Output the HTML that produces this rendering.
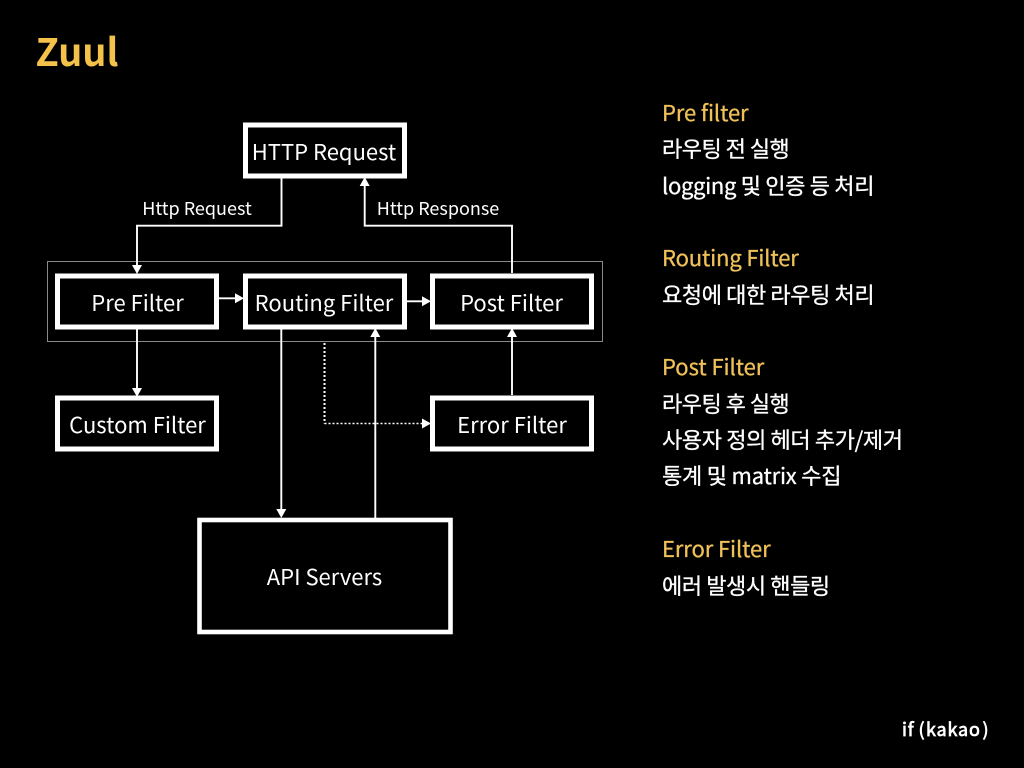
<!DOCTYPE html>
<html><head><meta charset="utf-8"><style>
html,body{margin:0;padding:0;background:#000;width:1024px;height:768px;overflow:hidden}
svg{display:block}
text{font-family:"Noto Sans CJK KR","Liberation Sans",sans-serif}
.n{font-size:22px;fill:#fff;text-anchor:middle}
.l{font-size:18px;fill:#fff;text-anchor:middle}
.h{font-size:22px;fill:#efc158;stroke:#efc158;stroke-width:.3}
.b{font-size:22px;fill:#fff;stroke:#fff;stroke-width:.3}
.k{font-size:18px;fill:#fff;stroke:#fff;stroke-width:.7}
</style></head><body>
<svg width="1024" height="768" viewBox="0 0 1024 768" xmlns="http://www.w3.org/2000/svg">
<rect width="1024" height="768" fill="#000"/>
<text x="35.5" y="66" font-weight="700" fill="#f4c24b" style="font-size:38px">Zuul</text>

<rect x="47.5" y="261.5" width="555" height="80" fill="none" stroke="#8a8a8a" stroke-width="1"/>

<g fill="none" stroke="#fff" stroke-width="5">
<rect x="245.5" y="125" width="159" height="51"/>
<rect x="57.5" y="276" width="159" height="51"/>
<rect x="245.5" y="276" width="159" height="51"/>
<rect x="432.5" y="276" width="159" height="51"/>
<rect x="57.5" y="398" width="159" height="51"/>
<rect x="432.5" y="398" width="159" height="51"/>
<rect x="199.5" y="520" width="251" height="112" stroke-width="4.6"/>
</g>

<g fill="none" stroke="#fff" stroke-width="1.9">
<path d="M281.5 178V225.7H137V266"/>
<path d="M512 273V225.7H364.7V185"/>
<path d="M219 298.3H236"/>
<path d="M407 301.3H423"/>
<path d="M137 329V389"/>
<path d="M281.3 329V510"/>
<path d="M375.3 518V336"/>
<path d="M512 395V336"/>
<path d="M324.5 343V423.5" stroke-width="2" stroke-dasharray="2 2"/>
<path d="M324.5 423.5H423" stroke-width="1.4" stroke-dasharray="2 2"/>
</g>
<g fill="#fff">
<path d="M132 265H142L137 274Z"/>
<path d="M359.7 186H369.7L364.7 177Z"/>
<path d="M235 293.3V303.3L244 298.3Z"/>
<path d="M422 296.3V306.3L431 301.3Z"/>
<path d="M132 388H142L137 397Z"/>
<path d="M276.3 509H286.3L281.3 518Z"/>
<path d="M370.3 337H380.3L375.3 328Z"/>
<path d="M507 337H517L512 328Z"/>
<path d="M422 418.5V428.5L431 423.5Z"/>
</g>

<text class="n" x="324" y="160">HTTP Request</text>
<text class="n" x="137.5" y="311">Pre Filter</text>
<text class="n" x="324" y="311">Routing Filter</text>
<text class="n" x="511.5" y="311">Post Filter</text>
<text class="n" x="137.5" y="433">Custom Filter</text>
<text class="n" x="512" y="433">Error Filter</text>
<text class="n" x="324.5" y="585">API Servers</text>
<text class="l" x="197" y="215">Http Request</text>
<text class="l" x="438" y="215">Http Response</text>

<text class="h" x="662" y="121" letter-spacing="-.1">Pre filter</text>
<text class="b" x="662" y="157" letter-spacing="-.5">라우팅 전 실행</text>
<text class="b" x="662" y="194" letter-spacing="-.31">logging 및 인증 등 처리</text>
<text class="h" x="662" y="266" letter-spacing="-.14">Routing Filter</text>
<text class="b" x="662" y="303" letter-spacing="-.38">요청에 대한 라우팅 처리</text>
<text class="h" x="662" y="375" letter-spacing="-.05">Post Filter</text>
<text class="b" x="662" y="412" letter-spacing="-.5">라우팅 후 실행</text>
<text class="b" x="662" y="448" letter-spacing="-.36">사용자 정의 헤더 추가/제거</text>
<text class="b" x="662" y="484" letter-spacing="-.21">통계 및 matrix 수집</text>
<text class="h" x="662" y="557" letter-spacing="-.1">Error Filter</text>
<text class="b" x="662" y="594" letter-spacing="-.4">에러 발생시 핸들링</text>

<text class="k" x="902" y="736" letter-spacing=".8">if</text>
<text class="k" x="918.5" y="736">(</text>
<text class="k" x="926" y="736" letter-spacing=".8">kakao</text>
<text class="k" x="982.5" y="736">)</text>
</svg>
</body></html>
